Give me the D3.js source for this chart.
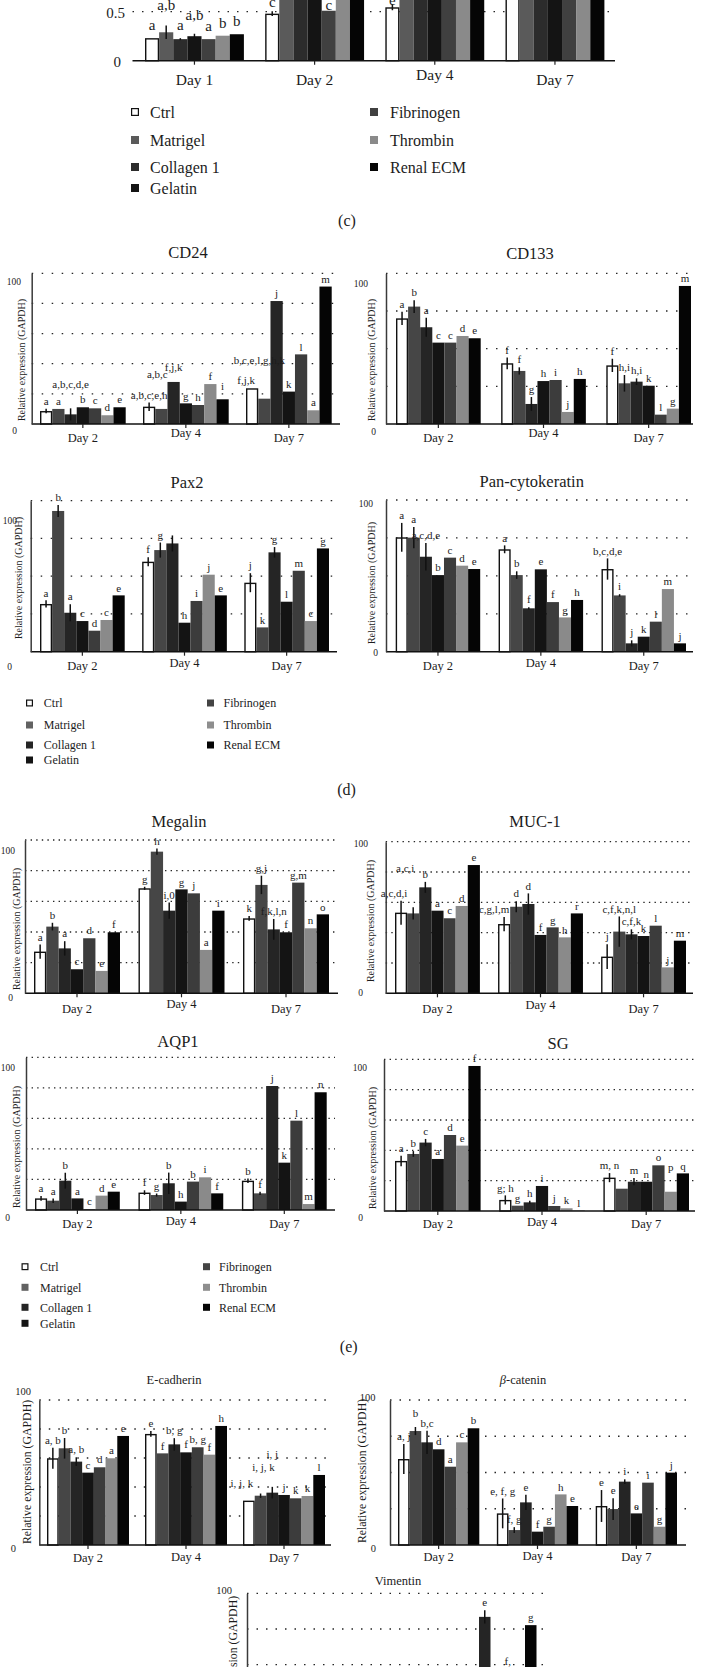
<!DOCTYPE html>
<html><head><meta charset="utf-8"><title>Figure</title>
<script src="https://cdn.jsdelivr.net/npm/d3@7/dist/d3.min.js"></script>
<style>
html,body{margin:0;padding:0;background:#fff;}
svg{display:block;}
text{font-family:"Liberation Serif","Times New Roman",serif;fill:#1c1c1c;}
</style></head><body>
<svg id="fig" width="701" height="1667" viewBox="0 0 701 1667"></svg>
<script>
// ================= DATA =================
const series = ["Ctrl","Matrigel","Collagen 1","Gelatin","Fibrinogen","Thrombin","Renal ECM"];
const daysProlif = ["Day 1","Day 2","Day 4","Day 7"];
const days = ["Day 2","Day 4","Day 7"];
const prolifTickLabels = ["0","0.5"];
const geneTickLabels = ["0","100"];
const yAxisTitle = "Relative expression (GAPDH)";
const panelLetters = ["(c)","(d)","(e)"];

// (c) proliferation (bars above 0.62 run off the top of the page)
const prolifValues = [[0.23,0.29,0.22,0.25,0.22,0.255,0.27],[0.48,0.95,1.0,0.9,0.51,0.85,1.05],[0.545,1.3,1.4,1.35,1.25,1.2,1.45],[0.95,1.6,1.7,1.75,1.65,1.55,1.85]];
const prolifErrors = [[0,0.068,0.01,0.025,0,0,0],[0.025,0,0,0,0,0,0],[0.03,0,0,0,0,0,0],[0,0,0,0,0,0,0]];
const prolifLetters = [["a","a,b","a","a,b","a","b","b"],["c","","","","c","",""],["e","","","","","",""],["","","","","","",""]];
const prolifLabelAt = {"0,1":{at:0.568},"0,3":{at:0.466},"1,0":{at:0.6},"1,4":{at:0.568},"2,0":{at:0.62}};

const cd24Values = [[8.6,10.0,6.4,11.1,10.4,5.8,11.1],[11.5,10.0,27.9,13.7,12.6,26.5,16.4],[23.7,16.8,81.6,21.5,46.2,9.1,91.2]];
const cd24Errors = [[1.5,0,4,0,0,0,0],[2.8,0,0,0,0,0,0],[0,0,0,0,0,0,0]];
const cd24Letters = [["a","a","a,b,c,d,e","b","c","d","e"],["a,b,c,e,h","a,b,c","f,j,k","g","h","f","i"],["f,j,k","b,c,e,l,g,h,k","j","k","l","a","m"]];
const cd24LabelAt = {"0,2":{at:26.5},"1,1":{at:33.2,dx:-4},"1,2":{at:38},"1,6":{at:24.8},"2,1":{at:42.5,dx:-5},"2,0":{dx:-6}};

const cd133Values = [[70.1,77.9,64.2,54.0,54.0,58.4,56.9],[40.3,35.2,13.3,28.5,29.2,8.0,29.9],[38.9,27.0,28.1,25.4,6.2,10.2,91.6]];
const cd133Errors = [[4.4,4.2,6.3,0,0,0,0],[3.9,2.4,4.6,0,0,0,0],[4.4,5.5,2.2,0,0,0,0]];
const cd133Letters = [["a","b","a","c","c","d","e"],["f","f","g","h","i","j","h"],["f","h,i","h,i","k","l","g","m"]];

const pax2Values = [[31.6,93.2,25.8,20.3,13.9,21.0,37.3],[59.6,67.3,71.7,19.2,33.6,51.0,37.3],[45.7,16.1,65.8,33.1,53.6,20.3,68.4]];
const pax2Errors = [[2.4,4,5.7,0,0,0,0],[3,5,5.3,0,0,0,0],[6.3,0,3.5,0,0,0,0]];
const pax2Letters = [["a","b","a","c","d","c","e"],["f","g","","h","i","j","e"],["j","k","g","l","m","c","g"]];

const panckValues = [[75.4,75.2,62.6,50.5,62.0,56.7,54.5],[67.5,50.5,28.6,54.3,32.7,22.6,34.1],[54.5,37.1,5.5,9.9,19.8,41.3,5.5]];
const panckErrors = [[9.5,7,9,0,0,0,0],[2.6,2.5,0.7,0,0,0,0],[7,0.8,2,0,0,0,0]];
const panckLetters = [["a","a","a,c,d,e","b","c","d","e"],["a","b","f","e","f","g","h"],["b,c,d,e","i","j","k","l","m","j"]];

const megalinValues = [[27.2,43.5,29.3,15.7,35.9,14.6,39.8],[68.5,92.4,53.9,67.8,65.2,28.3,53.9],[48.9,70.7,41.7,39.8,72.2,42.4,51.5]];
const megalinErrors = [[4.6,2.5,4.7,0,0,0,0],[1,2,5.3,0,0,0,0],[1.5,6,6.8,0,0,0,0]];
const megalinLetters = [["a","b","a","c","d","e","f"],["g","h","i,0","g","j","a","i"],["k","g,j","f,k,l,n","f","g,m","n","o"]];

const muc1Values = [[53.2,52.7,69.9,54.5,49.5,57.6,84.6],[45.7,57.1,58.9,38.5,43.5,36.9,52.7],[24.2,40.7,38.9,37.8,44.6,17.1,34.7]];
const muc1Errors = [[7.9,4,3.6,0,0,0,0],[4.7,3.6,7,0,0,0,0],[8.2,10,3.3,0,0,0,0]];
const muc1Letters = [["a,c,d,i","a,c,i","b","a","c","d","e"],["c,g,l,m","d","d","f","g","h","r"],["j","c,f,k,n,l","c,f,k","k","l","j","m"]];
const muc1LabelAt = {"0,0":{dx:-7},"0,1":{at:82.4,dx:-8},"1,0":{dx:-10}};

const aqp1Values = [[7.6,6.1,19.2,7.6,0.5,9.4,12.0],[11.4,9.8,17.5,5.5,18.6,21.4,10.9],[19.2,10.9,81.2,31.0,58.5,3.9,77.1]];
const aqp1Errors = [[1.5,1.5,5.2,0,0,0,0],[1.5,1,7,0,0,0,0],[1.5,1,0,0,0,0,0]];
const aqp1Letters = [["a","a","b","a","c","d","e"],["f","g","b","h","b","i","f"],["b","f","j","k","l","m","n"]];

const sgValues = [[33.0,37.6,45.1,34.3,50.1,43.1,95.6],[7.3,3.5,5.7,16.5,3.3,1.8,0.2],[22.0,14.7,19.3,19.3,30.1,12.7,24.8]];
const sgErrors = [[3.5,1.9,2.4,0,0,0,0],[3,0,1,0,0,0,0],[3,0,2.4,0,0,0,0]];
const sgLetters = [["a","b","c","a","d","e","f"],["g; h","g","h","i","j","k","l"],["m, n","","m","n","o","p","q"]];
const sgLabelAt = {"2,5":{at:28.8}};

const ecadValues = [[59.8,66.7,57.5,49.9,53.6,59.8,75.2],[76.6,63.2,69.4,63.9,67.4,62.3,82.1],[30.6,34.0,36.1,34.5,32.2,33.8,48.3]];
const ecadErrors = [[7.2,7.1,3,0,0,0,0],[2,0,4.3,0,0,0,0],[0,1.5,4,0,0,0,0]];
const ecadLetters = [["a, b","b","a, b","c","d","a","e"],["e","f","b, g","f","b, g","f","h"],["i, j, k","i, j, k","i, j","j","k","k","l"]];
const ecadLabelAt = {"2,0":{at:43,dx:-7},"2,1":{at:54,dx:3},"2,2":{at:62.8}};

const bcatValues = [[59.3,78.6,70.8,66.0,54.0,70.8,80.5],[21.8,10.3,29.4,9.2,12.6,34.9,26.9],[26.9,24.8,43.7,21.8,43.0,12.6,49.9]];
const bcatErrors = [[10.3,2.8,8,0,0,0,0],[10.3,2,5.2,0,0,0,0],[11,7.5,1.6,0,0,0,0]];
const bcatLetters = [["a, j","b","b,c","d","a","c","b"],["e, f, g","f, g","e","f","g","h","e"],["e","e","i","e","i","g","j"]];
const bcatLabelAt = {"0,1":{at:90.8}};

// Vimentin: only the top of the Day 7 bars is on the page
const vimValues = [[12,14,18,15,13,10,16],[18,22,28,25,20,16,27],[22,34,83.5,38,47,30,77.7]];
const vimErrors = [[0,0,0,0,0,0,0],[0,0,0,0,0,0,0],[0,0,4.7,0,0,0,0]];
const vimLetters = [["","","","","","",""],["","","","","","",""],["","","e","","f,","","g"]];

// ================= STYLE / LAYOUT =================
const colors = {"Ctrl":"#ffffff","Matrigel":"#464646","Collagen 1":"#252525","Gelatin":"#141414","Fibrinogen":"#3c3c3c","Thrombin":"#8a8a8a","Renal ECM":"#050505"};
const prolifColors = Object.assign({}, colors, {"Matrigel":"#5a5a5a","Collagen 1":"#2c2c2c","Fibrinogen":"#404040"});
const legendColors = Object.assign({}, colors, {"Matrigel":"#626262","Fibrinogen":"#444444","Thrombin":"#8e8e8e"});
const dStyle = {groups:days, tickFont:9.5, dayFont:12.5, labelFont:11, labelGap:7.7, titleFont:16.5, ylabFont:10, dayDy:14, day4Raise:4, yTicks:[0,100], tickLabels:geneTickLabels, dash:"1.5,8.5", colors:colors};
const eStyle = Object.assign({}, dStyle, {dash:"1.4,4.2", dayDy:13.5, day4Raise:3});
const fStyle = Object.assign({}, dStyle, {tickFont:10.5, titleFont:12.5, ylabFont:11.8, dash:"1.5,8", dayDy:13, day4Raise:1.5});
const g5 = [20,40,60,80,100], g4 = [25,50,75,100];
const layouts = {
  prolif: {groups:daysProlif, s0:145, e1:604.4, w:98.9, ax0:132.5, ax1:615, base:60.7, top:11.7, domain:[0,0.5], grid:[0.5,1.0], dash:"1.5,8", yTicks:[0,0.5], tickLabels:prolifTickLabels, tickPos:[[121,61],[125,12]], tickFont:15, dayDy:19, day4Raise:5, dayFont:15.5, labelFont:15, labelGap:13, noYLine:true, colors:prolifColors},
  cd24: Object.assign({}, dStyle, {s0:40, e1:331.7, w:85.7, ax0:31.7, ax1:340, base:424, top:273.3, grid:g5, tickPos:[[17,430],[21,280.7]], title:[188,252], ylab:[21.7,360], dayDy:14, day4Raise:5}),
  cd133: Object.assign({}, dStyle, {s0:396, e1:691, w:84.7, ax0:386, ax1:693, base:424, top:273.3, grid:g4, tickPos:[[376,431],[368,283]], title:[530,253], ylab:[371.7,360], dayDy:14, day4Raise:5}),
  pax2: Object.assign({}, dStyle, {s0:40, e1:329, w:84.7, ax0:30.7, ax1:337, base:651.7, top:500.7, grid:g4, tickPos:[[12,666],[17,520]], title:[187,482], ylab:[18,578], dayDy:14.3, day4Raise:3}),
  panck: Object.assign({}, dStyle, {s0:395.7, e1:686, w:84.5, ax0:386, ax1:693, base:651.7, top:500, grid:g4, tickPos:[[378,651.7],[373,503]], title:[531.7,481], ylab:[371.7,583], dayDy:14.3, day4Raise:3}),
  megalin: Object.assign({}, eStyle, {s0:34, e1:329, w:86, ax0:25, ax1:338, base:993.3, top:840, grid:g5, tickPos:[[13,996.7],[15,850]], title:[179,821.7], ylab:[16.7,929], dayDy:15, day4Raise:5}),
  muc1: Object.assign({}, eStyle, {s0:395, e1:686, w:84.9, ax0:385.7, ax1:693, base:993.3, top:841.7, grid:g5, tickPos:[[363,991.7],[368,842.7]], title:[535,821.7], ylab:[370,921], dayDy:15, day4Raise:4}),
  aqp1: Object.assign({}, eStyle, {s0:35, e1:326.7, w:84.8, ax0:26, ax1:335, base:1210, top:1057.3, grid:g5, tickPos:[[10,1216.7],[15,1066.7]], title:[178,1041.7], ylab:[16,1147], dayDy:13.3, day4Raise:3}),
  sg: Object.assign({}, eStyle, {s0:395, e1:689, w:85.6, ax0:384, ax1:695, base:1211, top:1059.3, grid:g5, tickPos:[[363,1216.7],[367,1066.7]], title:[558,1043.3], ylab:[372.7,1148], dayDy:12.3, day4Raise:2}),
  ecad: Object.assign({}, fStyle, {s0:47, e1:325, w:82, ax0:39.3, ax1:331, base:1545, top:1400, grid:g5, tickPos:[[16,1548],[31,1390.7]], title:[174,1380], ylab:[26.8,1472]}),
  bcat: Object.assign({}, fStyle, {s0:398, e1:677, w:81.3, ax0:390, ax1:686, base:1545, top:1400, grid:g4, tickPos:[[376,1548],[375.5,1396.7]], title:[523,1380], ylab:[362,1471], dayDy:12}),
  vim: Object.assign({}, fStyle, {s0:255, e1:536.5, w:80.5, ax0:247, ax1:545, base:1736.1, top:1593.3, grid:g4, tickPos:[[240,1740],[232,1590]], title:[398,1581], ylab:[232.4,1668]})
};
const legendLayouts = [
  {sq:[131,370], tx:[150,390], rows:[112,140,167,188], size:8, font:16},
  {sq:[26,207], tx:[43.8,223.5], rows:[703,725,745,760], size:7, font:12},
  {sq:[21.5,203], tx:[40,219], rows:[1266.7,1287.3,1307.3,1323.3], size:7, font:12}
];
const letterPos = [[347,220],[346.5,789],[348.7,1346.7]];

// ================= DRAW =================
const svg = d3.select("#fig");
svg.append("rect").attr("width",701).attr("height",1667).attr("fill","#fff");

function drawChart(cfg, vals, errs, letters, over, title) {
  over = over || {};
  const pal = cfg.colors || colors;
  const g = svg.append("g");
  const n = cfg.groups.length;
  const gap = (cfg.e1 - cfg.s0 - n*cfg.w)/(n-1);
  const x0 = d3.scaleBand().domain(cfg.groups).range([cfg.s0, cfg.e1]).paddingInner(gap/(cfg.w+gap)).paddingOuter(0);
  const x1 = d3.scaleBand().domain(series).range([0, x0.bandwidth()]);
  const y = d3.scaleLinear().domain(cfg.domain || [0,100]).range([cfg.base, cfg.top]);

  g.append("g").selectAll("line").data(cfg.grid).join("line")
    .attr("x1", cfg.ax0).attr("x2", cfg.ax1)
    .attr("y1", d => y(d)).attr("y2", d => y(d))
    .attr("stroke","#262626").attr("stroke-width",1.3).attr("stroke-dasharray",cfg.dash);

  const rows = [];
  cfg.groups.forEach((day, di) => series.forEach((s, si) => rows.push({day, s, di, si, v: vals[di][si], e: errs[di][si], t: letters[di][si]})));

  g.append("g").selectAll("rect").data(rows).join("rect")
    .attr("x", d => x0(d.day) + x1(d.s) + (d.s === "Ctrl" ? 0.7 : 0))
    .attr("y", d => y(d.v) + (d.s === "Ctrl" ? 0.7 : 0))
    .attr("width", d => x1.bandwidth() - (d.s === "Ctrl" ? 1.4 : 0))
    .attr("height", d => Math.max(0, y(0) - y(d.v) - (d.s === "Ctrl" ? 0.7 : 0)))
    .attr("fill", d => pal[d.s])
    .attr("stroke", d => d.s === "Ctrl" ? "#111" : "none")
    .attr("stroke-width", 1.4);

  g.append("g").selectAll("line").data(rows.filter(d => d.e > 0)).join("line")
    .attr("x1", d => x0(d.day) + x1(d.s) + x1.bandwidth()/2)
    .attr("x2", d => x0(d.day) + x1(d.s) + x1.bandwidth()/2)
    .attr("y1", d => y(d.v - d.e)).attr("y2", d => y(d.v + d.e))
    .attr("stroke","#111").attr("stroke-width",1.5);

  g.append("line").attr("x1", cfg.ax0).attr("x2", cfg.ax1).attr("y1", y(0)).attr("y2", y(0))
    .attr("stroke","#111").attr("stroke-width",1.6);

  const ya = d3.axisLeft(y).tickValues(cfg.yTicks).tickSize(0).tickSizeOuter(0)
    .tickFormat((d,i) => cfg.tickLabels[i]);
  const yg = g.append("g").attr("transform", `translate(${cfg.ax0},0)`).call(ya);
  yg.select(".domain").attr("stroke", cfg.noYLine ? "none" : "#3a3a3a").attr("stroke-width",1.5);
  yg.selectAll(".tick text").each(function(d,i){
    const p = cfg.tickPos[i];
    d3.select(this).attr("x", p[0] - cfg.ax0).attr("y", p[1] - y(d)).attr("dy","0.35em")
      .attr("text-anchor","end").style("font-size", cfg.tickFont + "px");
  });

  const xa = d3.axisBottom(x0).tickSize(4).tickSizeOuter(0);
  const xg = g.append("g").attr("transform", `translate(0,${y(0)})`).call(xa);
  xg.select(".domain").remove();
  xg.selectAll(".tick line").attr("stroke","#222").attr("stroke-width",1.2);
  xg.selectAll(".tick text")
    .attr("y", d => cfg.dayDy - (d === "Day 4" ? cfg.day4Raise : 0))
    .attr("dy","0.35em").style("font-size", cfg.dayFont + "px");

  g.append("g").selectAll("text").data(rows.filter(d => d.t)).join("text")
    .attr("x", d => x0(d.day) + x1(d.s) + x1.bandwidth()/2 + ((over[d.di+","+d.si] || {}).dx || 0))
    .attr("y", d => {
      const o = over[d.di+","+d.si];
      return (o && o.at !== undefined) ? y(o.at) : y(d.v + d.e) - cfg.labelGap;
    })
    .attr("dy","0.35em").attr("text-anchor","middle")
    .style("font-size", cfg.labelFont + "px")
    .text(d => d.t);

  if (title && cfg.title) {
    const t = g.append("text").attr("x", cfg.title[0]).attr("y", cfg.title[1]).attr("dy","0.35em")
      .attr("text-anchor","middle").style("font-size", cfg.titleFont + "px");
    if (title.startsWith("β")) {
      t.append("tspan").style("font-style","italic").text("β");
      t.append("tspan").text(title.slice(1));
    } else t.text(title);
  }
  if (cfg.ylab) {
    g.append("text").attr("transform", `translate(${cfg.ylab[0]},${cfg.ylab[1]}) rotate(-90)`)
      .attr("dy","0.35em").attr("text-anchor","middle").style("font-size", cfg.ylabFont + "px")
      .text(yAxisTitle);
  }
}

function drawLegend(L, idx) {
  const g = svg.append("g");
  const pal = idx === 0 ? prolifColors : legendColors;
  const items = series.map((s,i) => ({s, col: i < 4 ? 0 : 1, row: i < 4 ? i : i - 4}));
  g.selectAll("rect").data(items).join("rect")
    .attr("x", d => L.sq[d.col] + (d.s === "Ctrl" ? 0.6 : 0))
    .attr("y", d => L.rows[d.row] - L.size/2 + (d.s === "Ctrl" ? 0.6 : 0))
    .attr("width", d => L.size - (d.s === "Ctrl" ? 1.2 : 0))
    .attr("height", d => L.size - (d.s === "Ctrl" ? 1.2 : 0))
    .attr("fill", d => pal[d.s])
    .attr("stroke", d => d.s === "Ctrl" ? "#111" : "none").attr("stroke-width",1.2);
  g.selectAll("text").data(items).join("text")
    .attr("x", d => L.tx[d.col]).attr("y", d => L.rows[d.row]).attr("dy","0.35em")
    .style("font-size", L.font + "px").text(d => d.s);
}

drawChart(layouts.prolif, prolifValues, prolifErrors, prolifLetters, prolifLabelAt, null);
drawChart(layouts.cd24, cd24Values, cd24Errors, cd24Letters, cd24LabelAt, "CD24");
drawChart(layouts.cd133, cd133Values, cd133Errors, cd133Letters, null, "CD133");
drawChart(layouts.pax2, pax2Values, pax2Errors, pax2Letters, null, "Pax2");
drawChart(layouts.panck, panckValues, panckErrors, panckLetters, null, "Pan-cytokeratin");
drawChart(layouts.megalin, megalinValues, megalinErrors, megalinLetters, null, "Megalin");
drawChart(layouts.muc1, muc1Values, muc1Errors, muc1Letters, muc1LabelAt, "MUC-1");
drawChart(layouts.aqp1, aqp1Values, aqp1Errors, aqp1Letters, null, "AQP1");
drawChart(layouts.sg, sgValues, sgErrors, sgLetters, sgLabelAt, "SG");
drawChart(layouts.ecad, ecadValues, ecadErrors, ecadLetters, ecadLabelAt, "E-cadherin");
drawChart(layouts.bcat, bcatValues, bcatErrors, bcatLetters, bcatLabelAt, "β-catenin");
drawChart(layouts.vim, vimValues, vimErrors, vimLetters, null, "Vimentin");

legendLayouts.forEach((L, i) => drawLegend(L, i));
svg.append("g").selectAll("text").data(panelLetters).join("text")
  .attr("x", (d,i) => letterPos[i][0]).attr("y", (d,i) => letterPos[i][1]).attr("dy","0.35em")
  .attr("text-anchor","middle").style("font-size","16px").text(d => d);
</script>
</body></html>
